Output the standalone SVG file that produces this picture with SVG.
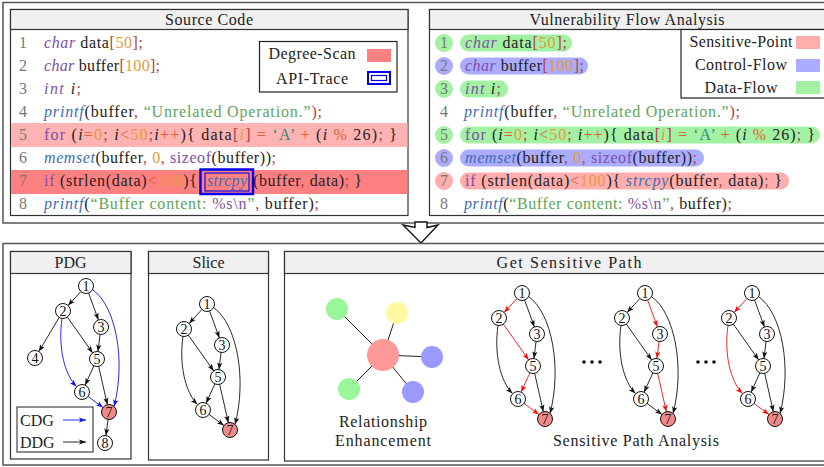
<svg xmlns="http://www.w3.org/2000/svg" width="824" height="467" viewBox="0 0 824 467" font-family="'Liberation Serif', 'DejaVu Serif', serif">
<style>
.t{font-family:"Liberation Serif","DejaVu Serif",serif;font-size:16px;fill:#222}
.c{font-family:"Liberation Serif","DejaVu Serif",serif;font-size:16px;fill:#222}
.ln{font-family:"Liberation Serif","DejaVu Serif",serif;font-size:16px;fill:#777;text-anchor:middle}
.mid{text-anchor:middle}
.ty{fill:#7D4FA8;font-style:italic}
.kw{fill:#7D4FA8}
.fn{fill:#3D6DB5;font-style:italic}
.num{fill:#E8983A}
.str{fill:#5DA55A}
.pn{fill:#B0413E}
.op{fill:#E06030}
.it{font-style:italic}
.ch{fill:#2E8B7A}
.frame{fill:none;stroke:#555;stroke-width:1.5}
.panel{fill:#fff;stroke:#333;stroke-width:1.2}
.hdr{fill:#f0f0f0;stroke:#333;stroke-width:1.2}
.nd{fill:#fff;stroke:#111;stroke-width:1}
.nd7{fill:#F08A8A;stroke:#111;stroke-width:1}
.nl{font-family:"Liberation Serif","DejaVu Serif",serif;font-size:14px;fill:#111;text-anchor:middle}
.ek{fill:none;stroke:#111;stroke-width:0.9;marker-end:url(#ak)}
.eb{fill:none;stroke:#1010F0;stroke-width:0.9;marker-end:url(#ab)}
.er{fill:none;stroke:#F01010;stroke-width:0.9;marker-end:url(#ar)}
</style>
<defs>
<marker id="ak" markerUnits="userSpaceOnUse" markerWidth="7" markerHeight="6" refX="7" refY="3" orient="auto"><path d="M0,0.4 L7,3 L0,5.6 L1.6,3 z" fill="#111"/></marker>
<marker id="ab" markerUnits="userSpaceOnUse" markerWidth="7" markerHeight="6" refX="7" refY="3" orient="auto"><path d="M0,0.4 L7,3 L0,5.6 L1.6,3 z" fill="#1010F0"/></marker>
<marker id="ar" markerUnits="userSpaceOnUse" markerWidth="7" markerHeight="6" refX="7" refY="3" orient="auto"><path d="M0,0.4 L7,3 L0,5.6 L1.6,3 z" fill="#F01010"/></marker>
</defs>
<rect width="824" height="467" fill="#fff"/>

<!-- top frame -->
<rect class="frame" x="3" y="2.5" width="830" height="220.5"/>

<!-- Source Code panel -->
<g id="source-code">
<rect class="panel" x="10.5" y="9.5" width="397.5" height="206"/>
<rect x="11" y="123" width="396.5" height="24" fill="#FFB3B3"/>
<rect x="11" y="170" width="396.5" height="24" fill="#FF8080"/>
<rect class="hdr" x="10.5" y="9.5" width="397.5" height="20"/>
<text class="t mid" x="209" y="24.5" textLength="88" lengthAdjust="spacing">Source Code</text>
<text class="ln" x="23" y="48">1</text>
<text class="ln" x="23" y="71">2</text>
<text class="ln" x="23" y="94">3</text>
<text class="ln" x="23" y="117">4</text>
<text class="ln" x="23" y="140">5</text>
<text class="ln" x="23" y="163">6</text>
<text class="ln" x="23" y="186">7</text>
<text class="ln" x="23" y="209">8</text>
<text class="c" x="44" y="48" textLength="99" lengthAdjust="spacing"><tspan class="ty">char</tspan> data<tspan class="pn">[</tspan><tspan class="num">50</tspan><tspan class="pn">];</tspan></text>
<text class="c" x="44" y="71" textLength="116" lengthAdjust="spacing"><tspan class="ty">char</tspan> buffer<tspan class="pn">[</tspan><tspan class="num">100</tspan><tspan class="pn">];</tspan></text>
<text class="c" x="44" y="94" textLength="37" lengthAdjust="spacing"><tspan class="ty">int</tspan> <tspan class="it">i</tspan><tspan class="pn">;</tspan></text>
<text class="c" x="44" y="117" textLength="278" lengthAdjust="spacing"><tspan class="fn">printf</tspan>(buffer<tspan class="pn">,</tspan> <tspan class="str">“Unrelated Operation.”</tspan><tspan class="pn">);</tspan></text>
<text class="c" x="44" y="140" textLength="353" lengthAdjust="spacing"><tspan class="kw">for</tspan> (<tspan class="it">i</tspan><tspan class="op">=</tspan><tspan class="num">0</tspan><tspan class="pn">;</tspan> <tspan class="it">i</tspan><tspan class="op">&lt;</tspan><tspan class="num">50</tspan><tspan class="pn">;</tspan><tspan class="it">i</tspan><tspan class="op">++</tspan>){  data<tspan class="pn">[</tspan><tspan class="num it">i</tspan><tspan class="pn">]</tspan> <tspan class="op">=</tspan> <tspan class="ch">‘A’</tspan> <tspan class="op">+</tspan> (<tspan class="it">i</tspan> <tspan class="op">%</tspan> 26)<tspan class="pn">;</tspan> }</text>
<text class="c" x="44" y="163" textLength="232" lengthAdjust="spacing"><tspan class="fn">memset</tspan>(buffer<tspan class="pn">,</tspan> <tspan class="num">0</tspan><tspan class="pn">,</tspan> <tspan class="kw">sizeof</tspan>(buffer))<tspan class="pn">;</tspan></text>
<text class="c" x="44" y="186" textLength="153" lengthAdjust="spacing"><tspan class="kw">if</tspan> (strlen(data)<tspan class="op">&lt;</tspan><tspan class="num">100</tspan>){</text>
<text class="c fn" x="207" y="186" textLength="40" lengthAdjust="spacing">strcpy</text>
<text class="c" x="253" y="186" textLength="109" lengthAdjust="spacing">(buffer<tspan class="pn">,</tspan> data)<tspan class="pn">;</tspan>  }</text>
<text class="c" x="44" y="209" textLength="275" lengthAdjust="spacing"><tspan class="fn">printf</tspan>(<tspan class="str">“Buffer content: </tspan><tspan class="kw">%s\n</tspan><tspan class="str">”</tspan><tspan class="pn">,</tspan> buffer)<tspan class="pn">;</tspan></text>
<rect x="200.5" y="169.5" width="52.5" height="24.5" fill="none" stroke="#0000F0" stroke-width="2.5"/>
<rect x="205" y="173" width="44" height="18" fill="none" stroke="#0000F0" stroke-width="1.1"/>
<g id="legend-source">
<rect x="259.5" y="41.5" width="137.5" height="50.5" fill="#fff" stroke="#222" stroke-width="1.2"/>
<text class="t mid" x="312" y="59" textLength="87" lengthAdjust="spacing">Degree-Scan</text>
<text class="t mid" x="312" y="84" textLength="72" lengthAdjust="spacing">API-Trace</text>
<rect x="367" y="49" width="24" height="13" fill="#FF8080"/>
<rect x="368" y="72" width="22" height="12" fill="none" stroke="#0000F0" stroke-width="2"/>
<rect x="371.5" y="75.5" width="15" height="5" fill="none" stroke="#0000F0" stroke-width="1.2"/>
</g>
</g>

<!-- Vulnerability Flow Analysis panel -->
<g id="vuln-flow">
<rect class="panel" x="429.5" y="9.5" width="400" height="206"/>
<rect class="hdr" x="429.5" y="9.5" width="400" height="20"/>
<text class="t mid" x="627" y="24.5" textLength="195" lengthAdjust="spacing">Vulnerability Flow Analysis</text>
<rect x="460" y="34.5" width="112" height="17" rx="8.5" fill="#A3F2A3"/>
<rect x="460" y="57.5" width="128" height="17" rx="8.5" fill="#ABABFF"/>
<rect x="460" y="80.5" width="48" height="17" rx="8.5" fill="#A3F2A3"/>
<rect x="460" y="126.5" width="360" height="17" rx="8.5" fill="#A3F2A3"/>
<rect x="460" y="149.5" width="244" height="17" rx="8.5" fill="#ABABFF"/>
<rect x="460" y="172.5" width="329" height="17" rx="8.5" fill="#FFADAD"/>
<circle cx="444" cy="43" r="9" fill="#A3F2A3"/>
<circle cx="444" cy="66" r="9" fill="#ABABFF"/>
<circle cx="444" cy="89" r="9" fill="#A3F2A3"/>
<circle cx="444" cy="135" r="9" fill="#A3F2A3"/>
<circle cx="444" cy="158" r="9" fill="#ABABFF"/>
<circle cx="444" cy="181" r="9" fill="#FFADAD"/>
<text class="ln" x="444" y="48">1</text>
<text class="ln" x="444" y="71">2</text>
<text class="ln" x="444" y="94">3</text>
<text class="ln" x="444" y="117">4</text>
<text class="ln" x="444" y="140">5</text>
<text class="ln" x="444" y="163">6</text>
<text class="ln" x="444" y="186">7</text>
<text class="ln" x="444" y="209">8</text>
<text class="c" x="465" y="48" textLength="102" lengthAdjust="spacing"><tspan class="ty">char</tspan> data<tspan class="pn">[</tspan><tspan class="num">50</tspan><tspan class="pn">];</tspan></text>
<text class="c" x="465" y="71" textLength="119" lengthAdjust="spacing"><tspan class="ty">char</tspan> buffer<tspan class="pn">[</tspan><tspan class="num">100</tspan><tspan class="pn">];</tspan></text>
<text class="c" x="465" y="94" textLength="36" lengthAdjust="spacing"><tspan class="ty">int</tspan> <tspan class="it">i</tspan><tspan class="pn">;</tspan></text>
<text class="c" x="464" y="117" textLength="276" lengthAdjust="spacing"><tspan class="fn">printf</tspan>(buffer<tspan class="pn">,</tspan> <tspan class="str">“Unrelated Operation.”</tspan><tspan class="pn">);</tspan></text>
<text class="c" x="465" y="140" textLength="350" lengthAdjust="spacing"><tspan class="kw">for</tspan> (<tspan class="it">i</tspan><tspan class="op">=</tspan><tspan class="num">0</tspan><tspan class="pn">;</tspan> <tspan class="it">i</tspan><tspan class="op">&lt;</tspan><tspan class="num">50</tspan><tspan class="pn">;</tspan> <tspan class="it">i</tspan><tspan class="op">++</tspan>){ data<tspan class="pn">[</tspan><tspan class="num it">i</tspan><tspan class="pn">]</tspan> <tspan class="op">=</tspan> <tspan class="ch">‘A’</tspan> <tspan class="op">+</tspan> (<tspan class="it">i</tspan> <tspan class="op">%</tspan> 26)<tspan class="pn">;</tspan> }</text>
<text class="c" x="465" y="163" textLength="232" lengthAdjust="spacing"><tspan class="fn">memset</tspan>(buffer<tspan class="pn">,</tspan> <tspan class="num">0</tspan><tspan class="pn">,</tspan> <tspan class="kw">sizeof</tspan>(buffer))<tspan class="pn">;</tspan></text>
<text class="c" x="465" y="186" textLength="317" lengthAdjust="spacing"><tspan class="kw">if</tspan> (strlen(data)<tspan class="op">&lt;</tspan><tspan class="num">100</tspan>){ <tspan class="fn">strcpy</tspan>(buffer<tspan class="pn">,</tspan> data)<tspan class="pn">;</tspan> }</text>
<text class="c" x="464" y="209" textLength="268" lengthAdjust="spacing"><tspan class="fn">printf</tspan>(<tspan class="str">“Buffer content: </tspan><tspan class="kw">%s\n</tspan><tspan class="str">”</tspan><tspan class="pn">,</tspan> buffer)<tspan class="pn">;</tspan></text>
<g id="legend-flow">
<rect x="681" y="29.5" width="150" height="68.5" fill="#fff" stroke="#222" stroke-width="1.2"/>
<text class="t mid" x="741" y="47" textLength="103" lengthAdjust="spacing">Sensitive-Point</text>
<text class="t mid" x="741" y="70" textLength="92" lengthAdjust="spacing">Control-Flow</text>
<text class="t mid" x="741" y="93" textLength="73" lengthAdjust="spacing">Data-Flow</text>
<rect x="796" y="36" width="24" height="13" fill="#FFADAD"/>
<rect x="796" y="59" width="24" height="13" fill="#ABABFF"/>
<rect x="796" y="81" width="24" height="13" fill="#A3F2A3"/>
</g>
</g>

<!-- big arrow -->
<g id="down-arrow">
<polygon points="415,222 427,222 427,227.5 438,225 421,243 403,225 415,227.5" fill="#fff" stroke="#111" stroke-width="1.4" stroke-linejoin="miter"/>
</g>

<!-- bottom frame -->
<rect class="frame" x="3" y="243.5" width="830" height="221.5"/>

<!-- PDG panel -->
<rect class="panel" x="10.5" y="251.5" width="120.5" height="207.5"/>
<rect class="hdr" x="10.5" y="251.5" width="120.5" height="22"/>
<text class="t mid" x="70.5" y="267.5">PDG</text>
<g id="pdg" transform="translate(86,286)">
<g id="pdg-edges">
<path class="ek" d="M-5.08,5.52 L-17.92,19.48"/>
<path class="ek" d="M2.58,7.04 L12.42,33.96"/>
<path class="eb" d="M6.5,3.5 C30,20 40,75 28,120.5"/>
<path class="ek" d="M-26.84,31.44 L-47.16,65.56"/>
<path class="ek" d="M-18.66,31.12 L6.66,66.88"/>
<path class="eb" d="M-24,32.4 C-28,60 -22,88 -9.5,100.5"/>
<path class="ek" d="M14.07,48.44 L11.93,65.56"/>
<path class="ek" d="M7.9,79.83 L-0.9,99.17"/>
<path class="ek" d="M12.66,80.31 L21.34,118.69"/>
<path class="eb" d="M2.03,110.46 L16.97,121.54"/>
<path class="ek" d="M22.04,133.44 L19.96,149.56"/>
</g>
<g id="pdg-n1"><circle class="nd" cx="0" cy="0" r="7.5"/><text class="nl" x="0" y="4.8">1</text></g>
<g id="pdg-n2"><circle class="nd" cx="-23" cy="25" r="7.5"/><text class="nl" x="-23" y="29.8">2</text></g>
<g id="pdg-n3"><circle class="nd" cx="15" cy="41" r="7.5"/><text class="nl" x="15" y="45.8">3</text></g>
<g id="pdg-n4"><circle class="nd" cx="-51" cy="72" r="7.5"/><text class="nl" x="-51" y="76.8">4</text></g>
<g id="pdg-n5"><circle class="nd" cx="11" cy="73" r="7.5"/><text class="nl" x="11" y="77.8">5</text></g>
<g id="pdg-n6"><circle class="nd" cx="-4" cy="106" r="7.5"/><text class="nl" x="-4" y="110.8">6</text></g>
<g id="pdg-n7"><circle class="nd7" cx="23" cy="126" r="7.5"/><text class="nl" x="23" y="130.8">7</text></g>
<g id="pdg-n8"><circle class="nd" cx="19" cy="157" r="7.5"/><text class="nl" x="19" y="161.8">8</text></g>
</g>
<g id="pdg-legend">
<rect x="17" y="407" width="76" height="45" fill="#fff" stroke="#444" stroke-width="1.2"/>
<text class="t" x="20" y="425.5">CDG</text>
<text class="t" x="20" y="447.5">DDG</text>
<path class="eb" d="M63,420 L86,420"/>
<path class="ek" d="M63,442 L86,442"/>
</g>

<!-- Slice panel -->
<rect class="panel" x="148.5" y="251.5" width="120" height="208.5"/>
<rect class="hdr" x="148.5" y="251.5" width="120" height="22"/>
<text class="t mid" x="208.5" y="267.5">Slice</text>
<g id="slice" transform="translate(207,304)">
<g id="slice-edges">
<path class="ek" d="M-5.08,5.52 L-17.92,19.48"/>
<path class="ek" d="M2.58,7.04 L12.42,33.96"/>
<path class="ek" d="M6.5,3.5 C30,20 40,75 28,120.5"/>
<path class="ek" d="M-18.66,31.12 L6.66,66.88"/>
<path class="ek" d="M-24,32.4 C-28,60 -22,88 -9.5,100.5"/>
<path class="ek" d="M14.07,48.44 L11.93,65.56"/>
<path class="ek" d="M7.9,79.83 L-0.9,99.17"/>
<path class="ek" d="M12.66,80.31 L21.34,118.69"/>
<path class="ek" d="M2.03,110.46 L16.97,121.54"/>
</g>
<g id="slice-n1"><circle class="nd" cx="0" cy="0" r="7.5"/><text class="nl" x="0" y="4.8">1</text></g>
<g id="slice-n2"><circle class="nd" cx="-23" cy="25" r="7.5"/><text class="nl" x="-23" y="29.8">2</text></g>
<g id="slice-n3"><circle class="nd" cx="15" cy="41" r="7.5"/><text class="nl" x="15" y="45.8">3</text></g>
<g id="slice-n5"><circle class="nd" cx="11" cy="73" r="7.5"/><text class="nl" x="11" y="77.8">5</text></g>
<g id="slice-n6"><circle class="nd" cx="-4" cy="106" r="7.5"/><text class="nl" x="-4" y="110.8">6</text></g>
<g id="slice-n7"><circle class="nd7" cx="23" cy="126" r="7.5"/><text class="nl" x="23" y="130.8">7</text></g>
</g>

<!-- Get Sensitive Path panel -->
<rect class="panel" x="284.5" y="251.5" width="550" height="209.5"/>
<rect class="hdr" x="284.5" y="251.5" width="550" height="22"/>
<text class="t mid" x="569" y="267.5" textLength="145" lengthAdjust="spacing">Get Sensitive Path</text>

<g id="relationship">
<g id="rel-edges" stroke="#222" stroke-width="1">
<line x1="383" y1="355" x2="337" y2="309"/>
<line x1="383" y1="355" x2="397" y2="313"/>
<line x1="383" y1="355" x2="432" y2="357"/>
<line x1="383" y1="355" x2="413" y2="392"/>
<line x1="383" y1="355" x2="349" y2="389"/>
</g>
<g id="rel-g1"><circle cx="337" cy="309" r="11" fill="#99F799"/></g>
<g id="rel-y"><circle cx="397" cy="313" r="11" fill="#FFF8A0"/></g>
<g id="rel-b1"><circle cx="432" cy="357" r="11" fill="#9999FF"/></g>
<g id="rel-b2"><circle cx="413" cy="392" r="11" fill="#9999FF"/></g>
<g id="rel-g2"><circle cx="349" cy="389" r="11" fill="#99F799"/></g>
<g id="rel-c"><circle cx="383" cy="355" r="16" fill="#FF9999"/></g>
<text class="t mid" x="383" y="427" textLength="88" lengthAdjust="spacing">Relationship</text>
<text class="t mid" x="383" y="446" textLength="96" lengthAdjust="spacing">Enhancement</text>
</g>

<g id="sp1" transform="translate(522,293)">
<g id="sp1-edges">
<path class="er" d="M-5.08,5.52 L-17.92,19.48"/>
<path class="ek" d="M2.58,7.04 L12.42,33.96"/>
<path class="ek" d="M6.5,3.5 C30,20 40,75 28,120.5"/>
<path class="er" d="M-18.66,31.12 L6.66,66.88"/>
<path class="ek" d="M-24,32.4 C-28,60 -22,88 -9.5,100.5"/>
<path class="ek" d="M14.07,48.44 L11.93,65.56"/>
<path class="er" d="M7.9,79.83 L-0.9,99.17"/>
<path class="ek" d="M12.66,80.31 L21.34,118.69"/>
<path class="er" d="M2.03,110.46 L16.97,121.54"/>
</g>
<g id="sp1-n1"><circle class="nd" cx="0" cy="0" r="7.5"/><text class="nl" x="0" y="4.8">1</text></g>
<g id="sp1-n2"><circle class="nd" cx="-23" cy="25" r="7.5"/><text class="nl" x="-23" y="29.8">2</text></g>
<g id="sp1-n3"><circle class="nd" cx="15" cy="41" r="7.5"/><text class="nl" x="15" y="45.8">3</text></g>
<g id="sp1-n5"><circle class="nd" cx="11" cy="73" r="7.5"/><text class="nl" x="11" y="77.8">5</text></g>
<g id="sp1-n6"><circle class="nd" cx="-4" cy="106" r="7.5"/><text class="nl" x="-4" y="110.8">6</text></g>
<g id="sp1-n7"><circle class="nd7" cx="23" cy="126" r="7.5"/><text class="nl" x="23" y="130.8">7</text></g>
</g>

<g id="sp2" transform="translate(645,293)">
<g id="sp2-edges">
<path class="ek" d="M-5.08,5.52 L-17.92,19.48"/>
<path class="er" d="M2.58,7.04 L12.42,33.96"/>
<path class="ek" d="M6.5,3.5 C30,20 40,75 28,120.5"/>
<path class="ek" d="M-18.66,31.12 L6.66,66.88"/>
<path class="ek" d="M-24,32.4 C-28,60 -22,88 -9.5,100.5"/>
<path class="er" d="M14.07,48.44 L11.93,65.56"/>
<path class="ek" d="M7.9,79.83 L-0.9,99.17"/>
<path class="er" d="M12.66,80.31 L21.34,118.69"/>
<path class="ek" d="M2.03,110.46 L16.97,121.54"/>
</g>
<g id="sp2-n1"><circle class="nd" cx="0" cy="0" r="7.5"/><text class="nl" x="0" y="4.8">1</text></g>
<g id="sp2-n2"><circle class="nd" cx="-23" cy="25" r="7.5"/><text class="nl" x="-23" y="29.8">2</text></g>
<g id="sp2-n3"><circle class="nd" cx="15" cy="41" r="7.5"/><text class="nl" x="15" y="45.8">3</text></g>
<g id="sp2-n5"><circle class="nd" cx="11" cy="73" r="7.5"/><text class="nl" x="11" y="77.8">5</text></g>
<g id="sp2-n6"><circle class="nd" cx="-4" cy="106" r="7.5"/><text class="nl" x="-4" y="110.8">6</text></g>
<g id="sp2-n7"><circle class="nd7" cx="23" cy="126" r="7.5"/><text class="nl" x="23" y="130.8">7</text></g>
</g>

<g id="sp3" transform="translate(752,293)">
<g id="sp3-edges">
<path class="er" d="M-5.08,5.52 L-17.92,19.48"/>
<path class="ek" d="M2.58,7.04 L12.42,33.96"/>
<path class="ek" d="M6.5,3.5 C30,20 40,75 28,120.5"/>
<path class="ek" d="M-18.66,31.12 L6.66,66.88"/>
<path class="er" d="M-24,32.4 C-28,60 -22,88 -9.5,100.5"/>
<path class="ek" d="M14.07,48.44 L11.93,65.56"/>
<path class="ek" d="M7.9,79.83 L-0.9,99.17"/>
<path class="ek" d="M12.66,80.31 L21.34,118.69"/>
<path class="er" d="M2.03,110.46 L16.97,121.54"/>
</g>
<g id="sp3-n1"><circle class="nd" cx="0" cy="0" r="7.5"/><text class="nl" x="0" y="4.8">1</text></g>
<g id="sp3-n2"><circle class="nd" cx="-23" cy="25" r="7.5"/><text class="nl" x="-23" y="29.8">2</text></g>
<g id="sp3-n3"><circle class="nd" cx="15" cy="41" r="7.5"/><text class="nl" x="15" y="45.8">3</text></g>
<g id="sp3-n5"><circle class="nd" cx="11" cy="73" r="7.5"/><text class="nl" x="11" y="77.8">5</text></g>
<g id="sp3-n6"><circle class="nd" cx="-4" cy="106" r="7.5"/><text class="nl" x="-4" y="110.8">6</text></g>
<g id="sp3-n7"><circle class="nd7" cx="23" cy="126" r="7.5"/><text class="nl" x="23" y="130.8">7</text></g>
</g>

<g id="dots" fill="#111">
<circle cx="584" cy="362" r="1.8"/><circle cx="592" cy="362" r="1.8"/><circle cx="600" cy="362" r="1.8"/>
<circle cx="698" cy="362" r="1.8"/><circle cx="706" cy="362" r="1.8"/><circle cx="714" cy="362" r="1.8"/>
</g>
<text class="t mid" x="636" y="446" textLength="166" lengthAdjust="spacing">Sensitive Path Analysis</text>
</svg>
